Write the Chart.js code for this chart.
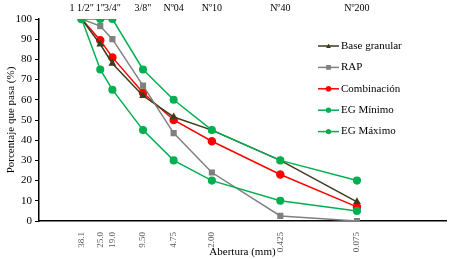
<!DOCTYPE html>
<html>
<head>
<meta charset="utf-8">
<script src="https://cdn.jsdelivr.net/npm/chart.js@4/dist/chart.umd.min.js"></script>
<style>
html,body{margin:0;padding:0;background:#fff;}
canvas{display:block;}
</style>
</head>
<body>
<canvas id="c" width="468" height="259"></canvas>
<script>
const sieveSizes = [38.1, 25.0, 19.0, 9.5, 4.75, 2.0, 0.425, 0.075];
const bottomLabels = ["38.1", "25.0", "19.0", "9.50", "4.75", "2.00", "0.425", "0.075"];
const topLabels = ["1 1/2\"", "1\"", "3/4\"", "3/8\"", "Nº04", "Nº10", "Nº40", "Nº200"];
const baseGranular = [100, 87.5, 78, 62, 51.5, 45, 30, 9.5];
const rap = [100, 96.5, 90, 67, 43.5, 24, 2.5, 0];
const combinacion = [100, 89.5, 81, 63.5, 50, 39.5, 23, 7];
const egMinimo = [100, 75, 65, 45, 30, 20, 10, 5];
const egMaximo = [100, 100, 100, 75, 60, 45, 30, 20];
const seriesNames = ["Base granular", "RAP", "Combinación", "EG Mínimo", "EG Máximo"];

const FONT = "'Liberation Serif', 'Times New Roman', serif";

function mk(label, values, color, style, r) {
  return {
    label: label,
    data: sieveSizes.map((x, i) => ({x: x, y: values[i]})),
    borderColor: color,
    backgroundColor: color,
    pointBackgroundColor: color,
    pointBorderColor: color,
    pointStyle: style,
    pointRadius: r,
    borderWidth: 1.5,
    tension: 0
  };
}

const datasets = [
  mk(seriesNames[4], egMaximo, '#00b050', 'circle', 3.3),
  mk(seriesNames[3], egMinimo, '#00b050', 'circle', 3.3),
  mk(seriesNames[1], rap, '#808080', 'rect', 3.3),
  mk(seriesNames[0], baseGranular, '#3f3b1e', 'triangle', 3),
  mk(seriesNames[2], combinacion, '#ff0000', 'circle', 3.5)
];

const legendOrder = [3, 2, 4, 1, 0];

function drawMarker(ctx, style, x, y, r, color) {
  ctx.fillStyle = color;
  ctx.beginPath();
  if (style === 'circle') {
    ctx.arc(x, y, r, 0, Math.PI * 2);
  } else if (style === 'rect') {
    ctx.rect(x - r * 0.9, y - r * 0.9, r * 1.8, r * 1.8);
  } else if (style === 'triangle') {
    ctx.moveTo(x, y - r);
    ctx.lineTo(x + r, y + r * 0.8);
    ctx.lineTo(x - r, y + r * 0.8);
    ctx.closePath();
  }
  ctx.fill();
}

const legendPlugin = {
  id: 'customLegend',
  afterDraw(chart) {
    const ctx = chart.ctx;
    ctx.save();
    const x0 = 318, x1 = 339, startY = 46, step = 21.4;
    legendOrder.forEach((di, k) => {
      const ds = chart.data.datasets[di];
      const y = startY + k * step;
      ctx.strokeStyle = ds.borderColor;
      ctx.lineWidth = 1.5;
      ctx.beginPath();
      ctx.moveTo(x0, y);
      ctx.lineTo(x1, y);
      ctx.stroke();
      drawMarker(ctx, ds.pointStyle, (x0 + x1) / 2, y, ds.pointRadius * 0.8, ds.borderColor);
      ctx.fillStyle = '#000';
      ctx.font = "11px " + FONT;
      ctx.textAlign = 'left';
      ctx.textBaseline = 'middle';
      ctx.fillText(ds.label, x1 + 2, y);
    });
    ctx.restore();
  }
};

function setTicks(scale) {
  scale.ticks = sieveSizes.map(v => ({value: v}));
}

new Chart(document.getElementById('c'), {
  type: 'line',
  data: {datasets: datasets},
  options: {
    responsive: false,
    animation: false,
    layout: {padding: {left: 0, right: 22, top: 0, bottom: 0}},
    plugins: {legend: {display: false}, tooltip: {enabled: false}},
    scales: {
      x: {
        type: 'logarithmic',
        position: 'bottom',
        reverse: true,
        min: 0.01,
        max: 100,
        afterBuildTicks: setTicks,
        afterFit(s) { s.height = 38; },
        grid: {display: false, drawTicks: false},
        border: {display: true, color: '#000', width: 1.5},
        ticks: {
          autoSkip: false,
          minRotation: 90,
          maxRotation: 90,
          padding: 11,
          color: '#595959',
          font: {family: FONT, size: 9},
          callback: (v, i) => bottomLabels[i]
        },
        title: {
          display: true,
          text: 'Abertura (mm)',
          color: '#000',
          font: {family: FONT, size: 11},
          padding: {top: 0, bottom: 0}
        }
      },
      x2: {
        type: 'logarithmic',
        position: 'top',
        reverse: true,
        min: 0.01,
        max: 100,
        afterBuildTicks: setTicks,
        afterFit(s) { s.height = 19; },
        grid: {display: false, drawTicks: false},
        border: {display: false},
        ticks: {
          autoSkip: false,
          minRotation: 0,
          maxRotation: 0,
          padding: 5,
          color: '#000',
          font: {family: FONT, size: 10},
          callback: (v, i) => topLabels[i]
        }
      },
      y: {
        min: 0,
        max: 100,
        afterFit(s) { s.width = 39; },
        grid: {display: true, drawOnChartArea: false, drawTicks: true, tickLength: 4, color: '#000'},
        border: {display: true, color: '#000', width: 1.5},
        ticks: {
          stepSize: 10,
          padding: 3,
          color: '#000',
          font: {family: FONT, size: 11}
        },
        title: {
          display: true,
          text: 'Porcentaje que pasa (%)',
          color: '#000',
          font: {family: FONT, size: 11},
          padding: {top: 5, bottom: 0}
        }
      }
    }
  },
  plugins: [legendPlugin]
});
</script>
</body>
</html>
